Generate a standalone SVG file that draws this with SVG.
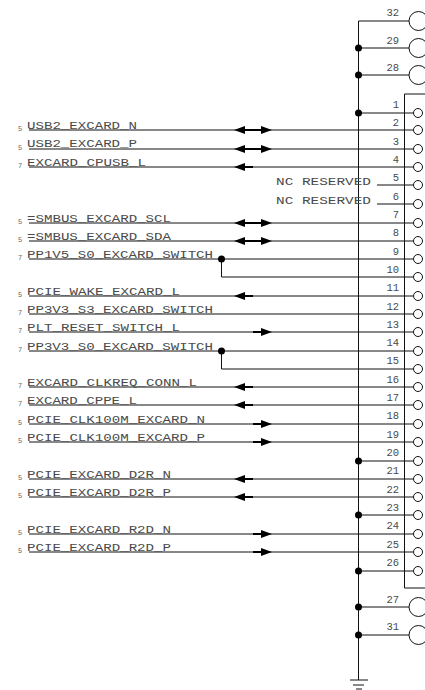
<svg xmlns="http://www.w3.org/2000/svg" width="425" height="690" viewBox="0 0 425 690">
<style>
text{font-family:"Liberation Mono",monospace;fill:#4a4a4a}
.n{font-size:11.500px}
.p{font-size:10.500px;text-anchor:end}
.s{font-size:7px;fill:#666}
.l{stroke:#111;stroke-width:1;fill:none}
.c{fill:#fff;stroke:#111;stroke-width:1}
.d{fill:#000}
.h{stroke:#000;stroke-width:2;fill:none}
</style>
<rect width="425" height="690" fill="#fff"/>
<g id="connectors">
<path class="l" d="M358.500 21V680M358.500 21H409M358.500 48H409M358.500 75H409M358.500 113H413M358.500 461H413M358.500 515H413M358.500 571H413M358.500 607H409M358.500 635H409"/>
<path class="l" d="M29 130H413M29 149H413M29 167H413M377 185H413M377 204H413M29 223H413M29 241H413M29 259H413M221.500 259V277H413M29 296H413M29 314H413M29 332H413M29 351H413M221.500 351V369H413M29 387H413M29 405H413M29 424H413M29 442H413M29 479H413M29 497H413M29 534H413M29 552H413"/>
<path class="l" d="M404.500 94H425M404.500 94V588H425"/>
<path class="l" d="M350 680H368M353 685H364M356 689H362"/>
<g class="d">
<circle cx="358.500" cy="48" r="3.500"/><circle cx="358.500" cy="75" r="3.500"/><circle cx="358.500" cy="113" r="3.500"/><circle cx="358.500" cy="461" r="3.500"/><circle cx="358.500" cy="515" r="3.500"/><circle cx="358.500" cy="571" r="3.500"/><circle cx="358.500" cy="607" r="3.500"/><circle cx="358.500" cy="635" r="3.500"/><circle cx="221.500" cy="259" r="3.500"/><circle cx="221.500" cy="351" r="3.500"/>
<path d="M234 130l11-4v8zM272 130l-11-4v8zM234 149l11-4v8zM272 149l-11-4v8zM234 223l11-4v8zM272 223l-11-4v8zM234 241l11-4v8zM272 241l-11-4v8z"/>
<path d="M234 167l11-4v8zM234 296l11-4v8zM234 387l11-4v8zM234 405l11-4v8zM234 479l11-4v8zM234 497l11-4v8zM272 332l-11-4v8zM272 424l-11-4v8zM272 442l-11-4v8zM272 534l-11-4v8zM272 552l-11-4v8z"/>
<path class="h" d="M245 130H261M245 149H261M245 223H261M245 241H261M245 167H253M245 296H253M245 387H253M245 405H253M245 479H253M245 497H253M253 332H261M253 424H261M253 442H261M253 534H261M253 552H261"/>
</g>
</g>
<g id="pins">
<circle class="c" cx="418" cy="113" r="4.500"/><circle class="c" cx="418" cy="130" r="4.500"/><circle class="c" cx="418" cy="149" r="4.500"/><circle class="c" cx="418" cy="167" r="4.500"/><circle class="c" cx="418" cy="185" r="4.500"/><circle class="c" cx="418" cy="204" r="4.500"/><circle class="c" cx="418" cy="223" r="4.500"/><circle class="c" cx="418" cy="241" r="4.500"/><circle class="c" cx="418" cy="259" r="4.500"/><circle class="c" cx="418" cy="277" r="4.500"/><circle class="c" cx="418" cy="296" r="4.500"/><circle class="c" cx="418" cy="314" r="4.500"/><circle class="c" cx="418" cy="332" r="4.500"/><circle class="c" cx="418" cy="351" r="4.500"/><circle class="c" cx="418" cy="369" r="4.500"/><circle class="c" cx="418" cy="387" r="4.500"/><circle class="c" cx="418" cy="405" r="4.500"/><circle class="c" cx="418" cy="424" r="4.500"/><circle class="c" cx="418" cy="442" r="4.500"/><circle class="c" cx="418" cy="461" r="4.500"/><circle class="c" cx="418" cy="479" r="4.500"/><circle class="c" cx="418" cy="497" r="4.500"/><circle class="c" cx="418" cy="515" r="4.500"/><circle class="c" cx="418" cy="534" r="4.500"/><circle class="c" cx="418" cy="552" r="4.500"/><circle class="c" cx="418" cy="571" r="4.500"/>
<circle class="c" cx="418.500" cy="21" r="9.500"/><circle class="c" cx="418.500" cy="48" r="9.500"/><circle class="c" cx="418.500" cy="75" r="9.500"/><circle class="c" cx="418.500" cy="607" r="9.500"/><circle class="c" cx="418.500" cy="635" r="9.500"/>
</g>
<g id="pin-numbers">
<text class="p" x="399" y="16">32</text><text class="p" x="399" y="44">29</text><text class="p" x="399" y="71">28</text>
<text class="p" x="399" y="108">1</text><text class="p" x="399" y="126">2</text><text class="p" x="399" y="145">3</text><text class="p" x="399" y="163">4</text><text class="p" x="399" y="181">5</text><text class="p" x="399" y="200">6</text><text class="p" x="399" y="218">7</text><text class="p" x="399" y="236">8</text><text class="p" x="399" y="255">9</text><text class="p" x="399" y="273">10</text><text class="p" x="399" y="291">11</text><text class="p" x="399" y="310">12</text><text class="p" x="399" y="328">13</text><text class="p" x="399" y="346">14</text><text class="p" x="399" y="364">15</text><text class="p" x="399" y="383">16</text><text class="p" x="399" y="401">17</text><text class="p" x="399" y="419">18</text><text class="p" x="399" y="438">19</text><text class="p" x="399" y="456">20</text><text class="p" x="399" y="474">21</text><text class="p" x="399" y="493">22</text><text class="p" x="399" y="511">23</text><text class="p" x="399" y="529">24</text><text class="p" x="399" y="548">25</text><text class="p" x="399" y="566">26</text><text class="p" x="399" y="603">27</text><text class="p" x="399" y="630">31</text>
</g>
<g id="labels">
<text class="n" x="276" y="185" textLength="95" lengthAdjust="spacingAndGlyphs">NC RESERVED</text><text class="n" x="276" y="204" textLength="95" lengthAdjust="spacingAndGlyphs">NC RESERVED</text>
<text class="s" x="18" y="131">5</text><text class="n" x="27" y="129" textLength="110" lengthAdjust="spacingAndGlyphs">USB2_EXCARD_N</text>
<text class="s" x="18" y="150">5</text><text class="n" x="27" y="147" textLength="110" lengthAdjust="spacingAndGlyphs">USB2_EXCARD_P</text>
<text class="s" x="18" y="168">7</text><text class="n" x="27" y="166" textLength="119" lengthAdjust="spacingAndGlyphs">EXCARD_CPUSB_L</text>
<text class="s" x="18" y="224">5</text><text class="n" x="27" y="222" textLength="144" lengthAdjust="spacingAndGlyphs">=SMBUS_EXCARD_SCL</text>
<text class="s" x="18" y="242">5</text><text class="n" x="27" y="240" textLength="144" lengthAdjust="spacingAndGlyphs">=SMBUS_EXCARD_SDA</text>
<text class="s" x="18" y="260">7</text><text class="n" x="27" y="258" textLength="186" lengthAdjust="spacingAndGlyphs">PP1V5_S0_EXCARD_SWITCH</text>
<text class="s" x="18" y="297">5</text><text class="n" x="27" y="295" textLength="153" lengthAdjust="spacingAndGlyphs">PCIE_WAKE_EXCARD_L</text>
<text class="s" x="18" y="315">7</text><text class="n" x="27" y="313" textLength="186" lengthAdjust="spacingAndGlyphs">PP3V3_S3_EXCARD_SWITCH</text>
<text class="s" x="18" y="333">7</text><text class="n" x="27" y="331" textLength="153" lengthAdjust="spacingAndGlyphs">PLT_RESET_SWITCH_L</text>
<text class="s" x="18" y="352">7</text><text class="n" x="27" y="350" textLength="186" lengthAdjust="spacingAndGlyphs">PP3V3_S0_EXCARD_SWITCH</text>
<text class="s" x="18" y="388">7</text><text class="n" x="27" y="386" textLength="170" lengthAdjust="spacingAndGlyphs">EXCARD_CLKREQ_CONN_L</text>
<text class="s" x="18" y="406">7</text><text class="n" x="27" y="404" textLength="110" lengthAdjust="spacingAndGlyphs">EXCARD_CPPE_L</text>
<text class="s" x="18" y="425">5</text><text class="n" x="27" y="423" textLength="178" lengthAdjust="spacingAndGlyphs">PCIE_CLK100M_EXCARD_N</text>
<text class="s" x="18" y="443">5</text><text class="n" x="27" y="441" textLength="178" lengthAdjust="spacingAndGlyphs">PCIE_CLK100M_EXCARD_P</text>
<text class="s" x="18" y="480">5</text><text class="n" x="27" y="478" textLength="144" lengthAdjust="spacingAndGlyphs">PCIE_EXCARD_D2R_N</text>
<text class="s" x="18" y="498">5</text><text class="n" x="27" y="496" textLength="144" lengthAdjust="spacingAndGlyphs">PCIE_EXCARD_D2R_P</text>
<text class="s" x="18" y="535">5</text><text class="n" x="27" y="533" textLength="144" lengthAdjust="spacingAndGlyphs">PCIE_EXCARD_R2D_N</text>
<text class="s" x="18" y="553">5</text><text class="n" x="27" y="551" textLength="144" lengthAdjust="spacingAndGlyphs">PCIE_EXCARD_R2D_P</text>
</g>
</svg>
